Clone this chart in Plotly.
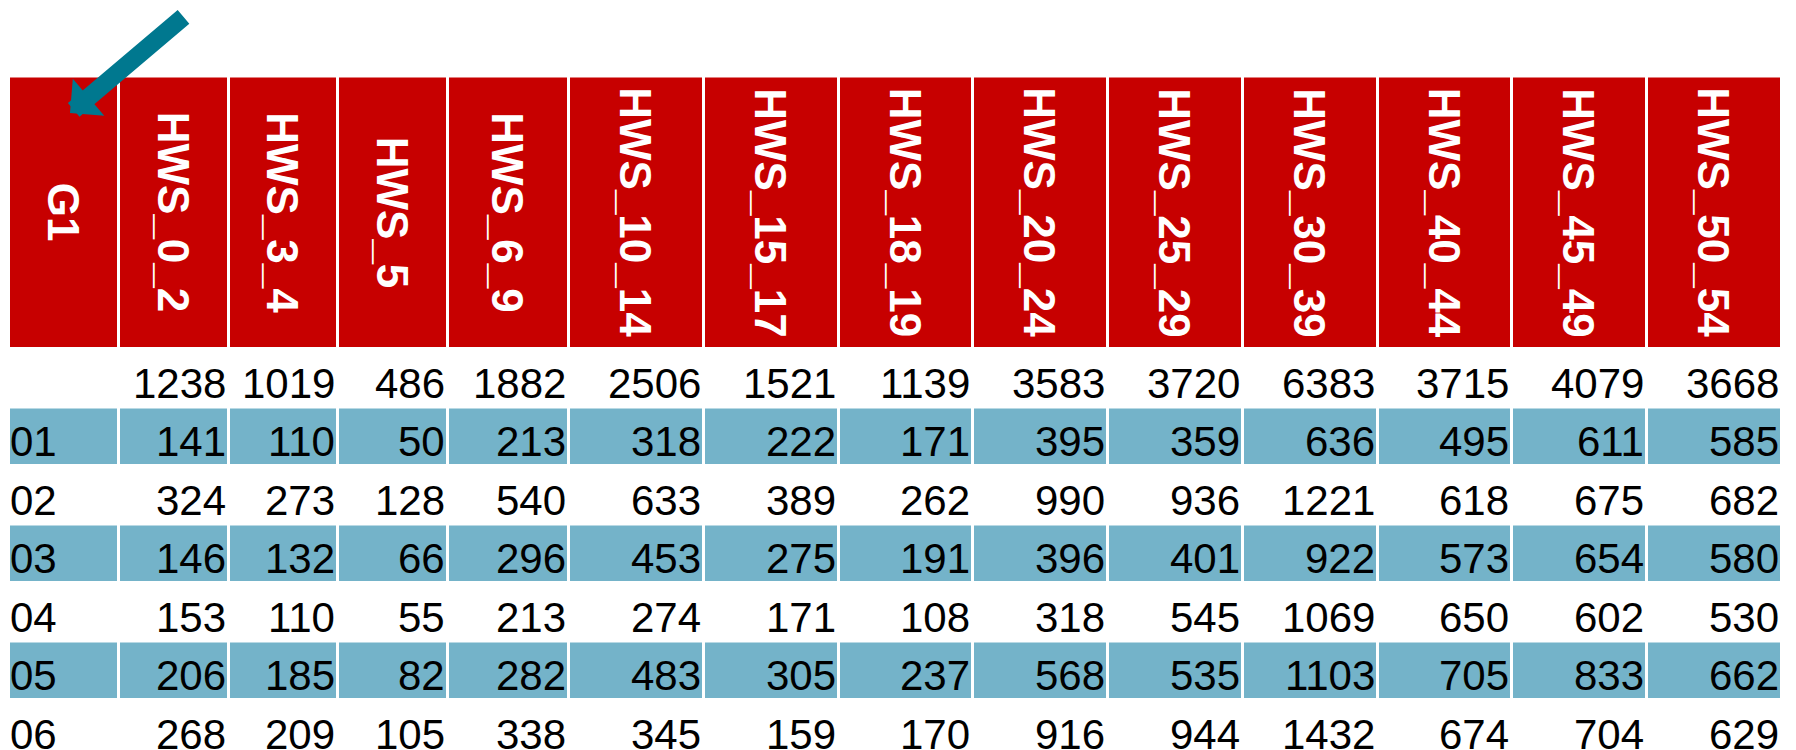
import plotly.graph_objects as go

# ---------------- data ----------------
columns = ["G1", "HWS_0_2", "HWS_3_4", "HWS_5", "HWS_6_9", "HWS_10_14", "HWS_15_17",
           "HWS_18_19", "HWS_20_24", "HWS_25_29", "HWS_30_39", "HWS_40_44",
           "HWS_45_49", "HWS_50_54"]
totals = [1238, 1019, 486, 1882, 2506, 1521, 1139, 3583, 3720, 6383, 3715, 4079, 3668]
row_labels = ["01", "02", "03", "04", "05", "06"]
row_01 = [141, 110, 50, 213, 318, 222, 171, 395, 359, 636, 495, 611, 585]
row_02 = [324, 273, 128, 540, 633, 389, 262, 990, 936, 1221, 618, 675, 682]
row_03 = [146, 132, 66, 296, 453, 275, 191, 396, 401, 922, 573, 654, 580]
row_04 = [153, 110, 55, 213, 274, 171, 108, 318, 545, 1069, 650, 602, 530]
row_05 = [206, 185, 82, 282, 483, 305, 237, 568, 535, 1103, 705, 833, 662]
row_06 = [268, 209, 105, 338, 345, 159, 170, 916, 944, 1432, 674, 704, 629]
rows = [row_01, row_02, row_03, row_04, row_05, row_06]

# ---------------- layout constants ----------------
W, H = 1796, 750
col_pitch = [110, 110, 109, 110, 121, 135, 135, 134, 135, 135, 135, 134, 135, 135]
x_start = 10
gap = 3
header_top = 77.5
header_pitch = 272.5
row_pitch = 58.5
RED = "#C70000"
BLUE = "#74B3C9"
TEAL = "#00788F"
FONT = "Liberation Sans, Arial, sans-serif"
NUM_SIZE = 42
HEAD_SIZE = 44
TEXT_DY = 5.5

edges = [x_start]
for w in col_pitch:
    edges.append(edges[-1] + w)

totals_top = header_top + header_pitch
row_tops = [totals_top + (i + 1) * row_pitch for i in range(len(rows))]

shapes = []
annotations = []

def rect(x0, y0, x1, y1, color):
    shapes.append(dict(type="rect", xref="x", yref="y", x0=x0, x1=x1, y0=y0, y1=y1,
                       fillcolor=color, line=dict(width=0), layer="below"))

# header cells + labels
for j, name in enumerate(columns):
    x0, x1 = edges[j], edges[j + 1] - gap
    y0, y1 = header_top, header_top + header_pitch - gap
    rect(x0, y0, x1, y1, RED)
    annotations.append(dict(x=(x0 + x1) / 2, y=(y0 + y1) / 2, xref="x", yref="y",
                            text=f"<b>{name}</b>", showarrow=False, textangle=90,
                            font=dict(family=FONT, size=HEAD_SIZE, color="white"),
                            xanchor="center", yanchor="middle"))

def num(xr, yc, v):
    annotations.append(dict(x=xr, y=yc + TEXT_DY, xref="x", yref="y", text=str(v),
                            showarrow=False, xanchor="right", yanchor="middle",
                            font=dict(family=FONT, size=NUM_SIZE, color="black")))

# totals row
yc = totals_top + (row_pitch - gap) / 2
for j, v in enumerate(totals):
    num(edges[j + 2] - gap + 1, yc, v)

# body rows
for i, (lab, vals) in enumerate(zip(row_labels, rows)):
    top = row_tops[i]
    if i % 2 == 0:
        for j in range(len(columns)):
            rect(edges[j], top, edges[j + 1] - gap, top + row_pitch - gap, BLUE)
    yc = top + (row_pitch - gap) / 2
    annotations.append(dict(x=edges[0] - 2, y=yc + TEXT_DY, xref="x", yref="y", text=lab,
                            showarrow=False, xanchor="left", yanchor="middle",
                            font=dict(family=FONT, size=NUM_SIZE, color="black")))
    for j, v in enumerate(vals):
        num(edges[j + 2] - gap + 1, yc, v)

# arrow pointing at the G1 header
annotations.append(dict(x=70, y=113, xref="x", yref="y", text="", showarrow=True,
                        ax=115, ay=-97.5, arrowhead=1, arrowsize=0.45, arrowwidth=18,
                        arrowcolor=TEAL))

fig = go.Figure()
fig.add_trace(go.Scatter(x=[0, W], y=[0, H], mode="markers",
                         marker=dict(opacity=0), hoverinfo="skip", showlegend=False))
fig.update_layout(
    width=W, height=H, margin=dict(l=0, r=0, t=0, b=0),
    paper_bgcolor="white", plot_bgcolor="white",
    xaxis=dict(range=[0, W], visible=False, fixedrange=True),
    yaxis=dict(range=[H, 0], visible=False, fixedrange=True),
    shapes=shapes, annotations=annotations, showlegend=False,
)
fig.write_html("out.html", post_script="document.body.style.margin='0';",
               config={"displayModeBar": False})
